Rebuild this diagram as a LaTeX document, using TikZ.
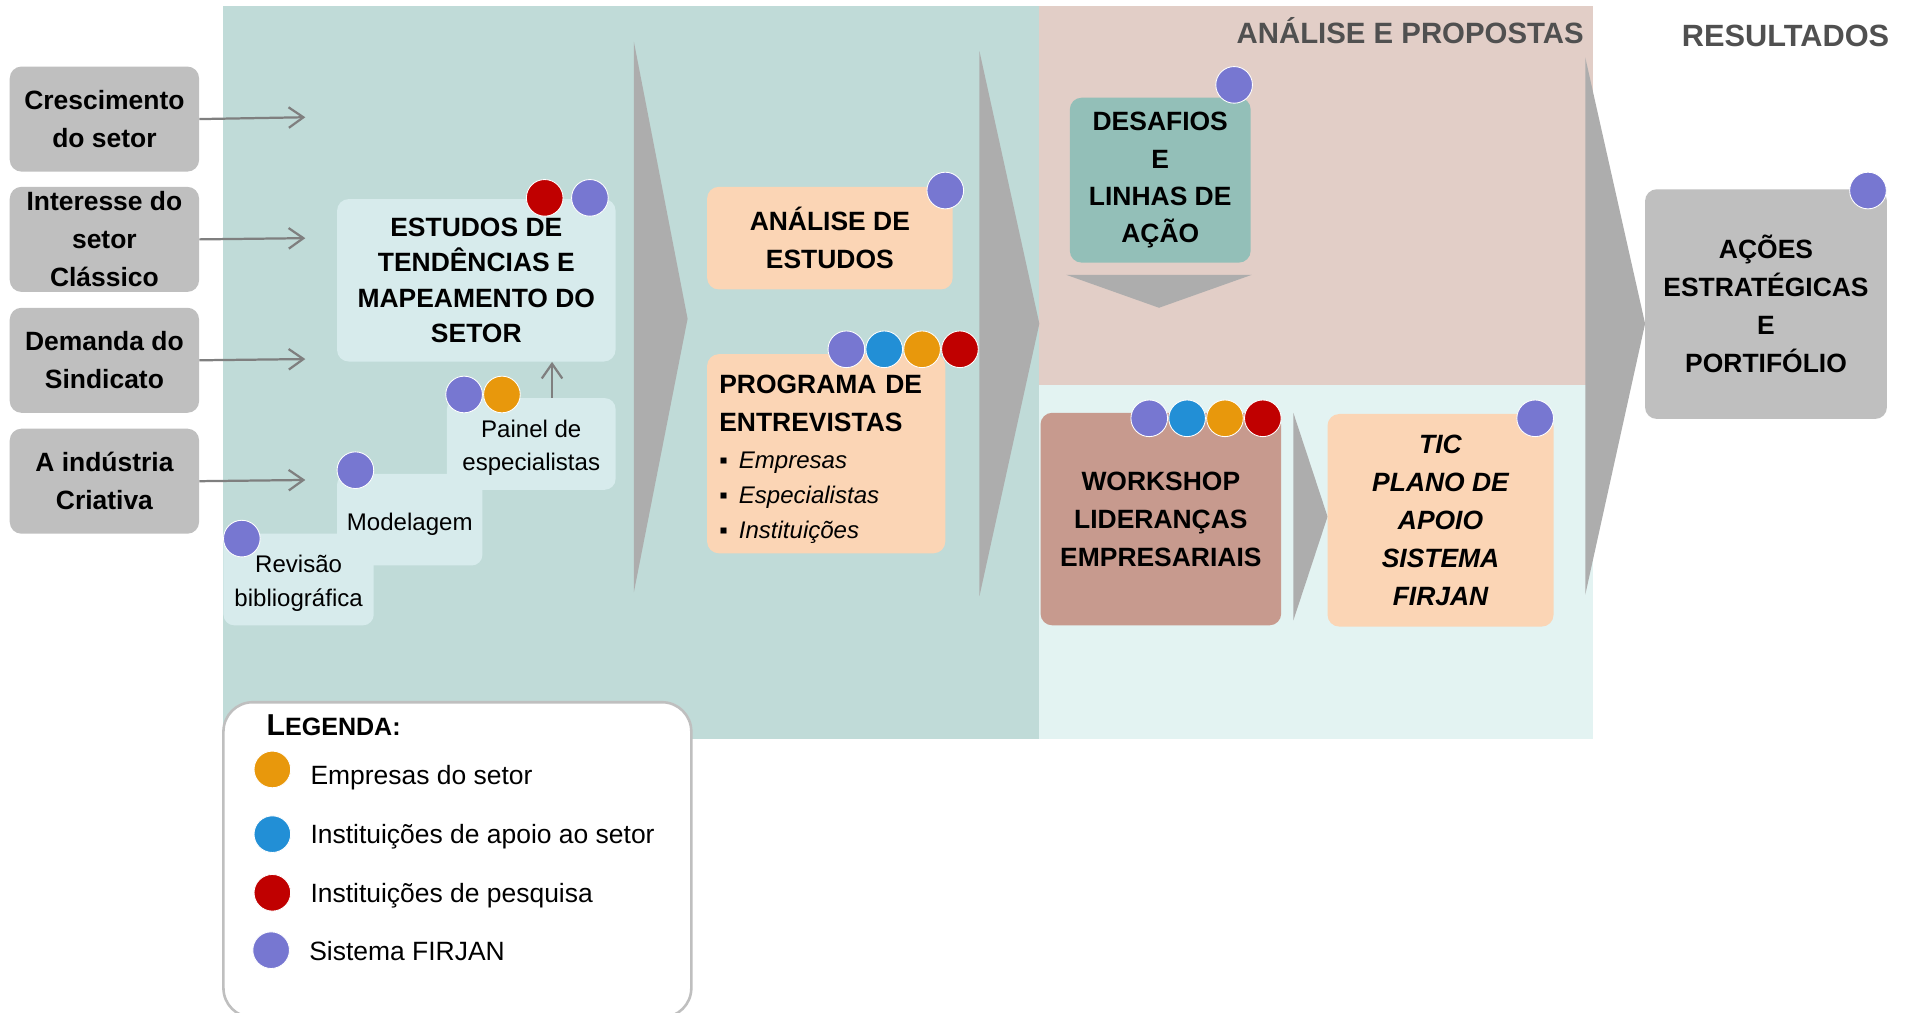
\documentclass[tikz,border=0pt]{standalone}
\usepackage{fontspec}
\setmainfont{Liberation Sans}
\usetikzlibrary{arrows.meta}

\definecolor{fundoEstudo}{HTML}{C0DBD8}
\definecolor{fundoAnalise}{HTML}{E2CEC7}
\definecolor{fundoProposta}{HTML}{E3F3F2}
\definecolor{azulclaro}{HTML}{D7EBEC}
\definecolor{pessego}{HTML}{FBD5B5}
\definecolor{verdeDesafio}{HTML}{93BFB8}
\definecolor{marrom}{HTML}{C79A8E}
\definecolor{cinzacaixa}{HTML}{BFBFBF}
\definecolor{chevroncor}{HTML}{ADADAD}
\definecolor{setacor}{HTML}{7F7F7F}
\definecolor{cinzatitulo}{HTML}{505050}
\definecolor{roxo}{HTML}{7777D1}
\definecolor{azul}{HTML}{228FD6}
\definecolor{laranja}{HTML}{E8980C}
\definecolor{vermelho}{HTML}{C00000}

\newcommand{\desce}[1]{\rule{0pt}{#1}}

\tikzset{
  caixa/.style={rectangle, rounded corners=0.24cm, align=center, inner sep=0pt,
    font=\bfseries\fontsize{15.4}{22.2}\selectfont},
  entrada/.style={caixa, fill=cinzacaixa, minimum width=3.875cm, minimum height=2.15cm},
  degrau/.style={rectangle, rounded corners=0.22cm, fill=azulclaro, align=center,
    inner sep=0pt, minimum height=1.875cm, font=\fontsize{14}{19.5}\selectfont},
  bola/.style={circle, draw=white, line width=0.5pt, minimum size=0.75cm, inner sep=0pt},
  seta/.style={draw=setacor, line width=1.3pt, -{Straight Barb[length=0.3cm, width=0.42cm]}},
  chevron/.style={fill=chevroncor},
  titulo/.style={inner sep=0pt, text=cinzatitulo, font=\bfseries\fontsize{17.1}{20}\selectfont},
  legtexto/.style={inner sep=0pt, anchor=base west, font=\fontsize{15.4}{18}\selectfont},
}

\begin{document}
\begin{tikzpicture}[x=0.025cm, y=-0.025cm]
    \useasboundingbox (0,0) rectangle (1568,829);

    % fundos
    \fill[fundoEstudo] (183,5) rectangle (851,605);
    \fill[fundoAnalise] (851,5) rectangle (1304,315);
    \fill[fundoProposta] (851,315) rectangle (1304,605);

    \node[titulo, anchor=base east] (tituloAnalise) at (1297,36) {ANÁLISE E PROPOSTAS};
    \node[titulo, anchor=base, font=\bfseries\fontsize{17.9}{20}\selectfont] (tituloResultados) at (1462,38) {RESULTADOS};

    % setas grandes
    \fill[chevron] (519,34) -- (563,261) -- (519,485) -- cycle;
    \fill[chevron] (802,42) -- (851,265) -- (802,488) -- cycle;
    \fill[chevron] (1298,47) -- (1347,265) -- (1298,487) -- cycle;
    \fill[chevron] (1059,338) -- (1087,423) -- (1059,508) -- cycle;
    \fill[chevron] (873,225) -- (1025,225) -- (949,252) -- cycle;

    % entradas
    \node[entrada] (crescimento) at (85.5,97.5) {Crescimento\\do setor};
    \node[entrada] (interesse) at (85.5,196) {Interesse do\\setor\\Clássico};
    \node[entrada] (demanda) at (85.5,295) {Demanda do\\Sindicato};
    \node[entrada] (industria) at (85.5,394) {A indústria\\Criativa};

    \coordinate (fimA) at (250,96);
    \coordinate (fimB) at (250,195);
    \coordinate (fimC) at (250,294);
    \coordinate (fimD) at (250,393);

    \foreach \de/\para in {crescimento/fimA, interesse/fimB, demanda/fimC, industria/fimD}
        \draw[seta] (\de.east) -- (\para);

    % estudos
    \node[caixa, fill=azulclaro, minimum width=5.7cm, minimum height=3.325cm,
        font=\bfseries\fontsize{15.4}{20.6}\selectfont] (estudos) at (390,229.5)
        {ESTUDOS DE\\TENDÊNCIAS E\\MAPEAMENTO DO\\SETOR};

    \node[degrau, minimum width=3.075cm] (revisao) at (244.5,474.5) {\desce{0.51cm}Revisão\\bibliográfica};
    \node[degrau, minimum width=2.975cm] (modelagem) at (335.5,425.5) {\desce{0.56cm}Modelagem};
    \node[degrau, minimum width=3.45cm] (painel) at (435,363.5) {\desce{0.51cm}Painel de\\especialistas};

    \coordinate (painelTopo) at ([xshift=0.425cm]painel.north);
    \draw[seta] (painelTopo) -- (painelTopo |- estudos.south);

    \node[bola, fill=vermelho] (estudosV) at (446,162) {};
    \node[bola, fill=roxo] (estudosR) at (483,162) {};
    \node[bola, fill=roxo] (painelR) at (380,323) {};
    \node[bola, fill=laranja] (painelL) at (411,323) {};
    \node[bola, fill=roxo] (modelagemR) at (291,385) {};
    \node[bola, fill=roxo] (revisaoR) at (198,441) {};

    % analise
    \node[caixa, fill=pessego, minimum width=5.025cm, minimum height=2.1cm] (analise) at (679.5,195) {ANÁLISE DE\\ESTUDOS};
    \node[bola, fill=roxo] (analiseR) at (774,156) {};

    \node[caixa, fill=pessego, minimum width=4.875cm, minimum height=4.075cm, text width=4.375cm,
        align=left, font=\bfseries\fontsize{15.4}{20.5}\selectfont] (programa) at (676.5,371.5)
        {\desce{0.61cm}PROGRAMA DE\\[1.5pt]ENTREVISTAS\\[1pt]
        {\mdseries\itshape\fontsize{14}{20.5}\selectfont
        \makebox[0.4cm][l]{\upshape ▪}Empresas\\
        \makebox[0.4cm][l]{\upshape ▪}Especialistas\\
        \makebox[0.4cm][l]{\upshape ▪}Instituições}};
    \node[bola, fill=roxo] (programaR) at (693,286) {};
    \node[bola, fill=azul] (programaA) at (724,286) {};
    \node[bola, fill=laranja] (programaL) at (755,286) {};
    \node[bola, fill=vermelho] (programaV) at (786,286) {};

    % propostas
    \node[caixa, fill=verdeDesafio, minimum width=3.7cm, minimum height=3.375cm,
        font=\bfseries\fontsize{15.4}{21.6}\selectfont] (desafios) at (950,147.5) {DESAFIOS\\E\\LINHAS DE\\AÇÃO};
    \node[bola, fill=roxo] (desafiosR) at (1010.5,69.5) {};

    \node[caixa, fill=marrom, minimum width=4.925cm, minimum height=4.35cm] (workshop) at (950.5,425)
        {WORKSHOP\\LIDERANÇAS\\EMPRESARIAIS};
    \node[bola, fill=roxo] (workshopR) at (941,342.5) {};
    \node[bola, fill=azul] (workshopA) at (972,342.5) {};
    \node[bola, fill=laranja] (workshopL) at (1003,342.5) {};
    \node[bola, fill=vermelho] (workshopV) at (1034,342.5) {};

    \node[caixa, fill=pessego, minimum width=4.625cm, minimum height=4.35cm,
        font=\bfseries\itshape\fontsize{15.4}{22.2}\selectfont] (tic) at (1179.5,426)
        {TIC\\PLANO DE\\APOIO\\SISTEMA\\FIRJAN};
    \node[bola, fill=roxo] (ticR) at (1257,342.5) {};

    % resultados
    \node[caixa, fill=cinzacaixa, minimum width=4.95cm, minimum height=4.7cm] (acoes) at (1446,249)
        {AÇÕES\\ESTRATÉGICAS\\E\\PORTIFÓLIO};
    \node[bola, fill=roxo] (acoesR) at (1529.5,156) {};

    % legenda
    \node[draw=cinzacaixa, line width=1.5pt, rounded corners=0.6cm, fill=white,
        minimum width=9.575cm, minimum height=6.45cm, inner sep=0pt] (legenda) at (374.5,704) {};
    \node[inner sep=0pt, anchor=base west, font=\bfseries] (legendaTitulo) at (218,602)
        {{\fontsize{17.6}{20}\selectfont L}{\fontsize{14.6}{20}\selectfont EGENDA:}};

    \node[bola, fill=laranja] (legLaranja) at (223,630) {};
    \node[bola, fill=azul] (legAzul) at (223,683) {};
    \node[bola, fill=vermelho] (legVermelho) at (223,731) {};
    \node[bola, fill=roxo] (legRoxo) at (222,778) {};

    \node[legtexto] (legEmpresas) at (254,642) {Empresas do setor};
    \node[legtexto] (legApoio) at (254,691) {Instituições de apoio ao setor};
    \node[legtexto] (legPesquisa) at (254,739) {Instituições de pesquisa};
    \node[legtexto] (legFirjan) at (253,786.5) {Sistema FIRJAN};

\end{tikzpicture}
\end{document}
